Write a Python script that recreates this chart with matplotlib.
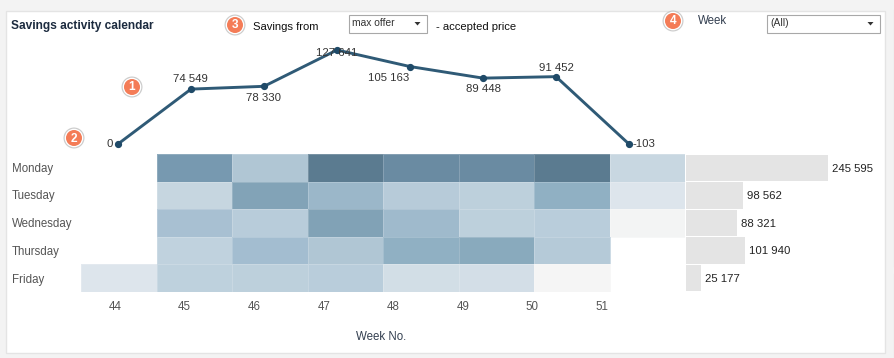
import numpy as np
import matplotlib
matplotlib.use('Agg')
import matplotlib.pyplot as plt
from matplotlib.colors import LinearSegmentedColormap, Normalize
from matplotlib.patches import Rectangle, Circle, Polygon

plt.rcParams['font.family'] = ['Liberation Sans', 'DejaVu Sans']

# dados
weeks = [44, 45, 46, 47, 48, 49, 50, 51]
days = ['Monday', 'Tuesday', 'Wednesday', 'Thursday', 'Friday']
week_savings = [0, 74549, 78330, 127641, 105163, 89448, 91452, -103]
day_savings = [245595, 98562, 88321, 101940, 25177]
monday = [np.nan, 35000, 14000, 55000, 45000, 45000, 55000, 5500]
tuesday = [np.nan, 6000, 30000, 21000, 11000, 9000, 26000, 0]
wednesday = [np.nan, 16500, 10500, 30500, 19500, 9000, 10000, -5500]
thursday = [np.nan, 8000, 18000, 14000, 26000, 28000, 12000, np.nan]
friday = [0, 8500, 9000, 10000, 3000, 2800, -6000, np.nan]

W, H = 894, 358
fig = plt.figure(figsize=(W / 100, H / 100), dpi=100, facecolor='#f3f3f3')


def px_axes(x0, y0, x1, y1):
    # eixo posicionado em pixels da imagem (y para baixo)
    ax = fig.add_axes([x0 / W, 1 - y1 / H, (x1 - x0) / W, (y1 - y0) / H])
    ax.patch.set_alpha(0)
    return ax


# fundo: painel branco e controles
bg = px_axes(0, 0, W, H)
bg.set_xlim(0, W)
bg.set_ylim(H, 0)
bg.axis('off')
bg.add_patch(Rectangle((5.5, 10.5), 879.5, 342, fc='white', ec='#e4e4e4', lw=1))
bg.plot([893.5, 893.5], [10, 266], color='#e6e6e6', lw=1)
bg.plot([893.5, 893.5], [274, 358], color='#e6e6e6', lw=1)

bg.text(11, 26, 'Savings activity calendar', fontsize=8.6, fontweight='bold', color='#1c2b3f', va='center')
bg.text(253, 26.5, 'Savings from', fontsize=8.1, color='#111111', va='center')
bg.text(436, 26.5, '- accepted price', fontsize=8.1, color='#111111', va='center')
bg.text(698, 20.5, 'Week', fontsize=8.3, color='#333f50', va='center')

for x0, x1, label in [(348.5, 426.5, 'max offer'), (766.5, 879.5, '(All)')]:
    bg.add_patch(Rectangle((x0, 14.5), x1 - x0, 18, fc='white', ec='#a8a8a8', lw=0.8))
    bg.text(x0 + 4, 23, label, fontsize=7.4, color='#333333', va='center')
    bg.add_patch(Polygon([(x1 - 12, 22), (x1 - 6, 22), (x1 - 9, 25.5)], fc='#333333', ec='none'))

for n, (cx, cy) in enumerate([(132, 87), (74, 138), (235, 25), (673, 21)], start=1):
    bg.add_patch(Circle((cx, cy), 10.5, fc='#c4c4c4', ec='none', alpha=0.85))
    bg.add_patch(Circle((cx, cy), 9.3, fc='white', ec='none'))
    bg.add_patch(Circle((cx, cy), 8, fc='#f47c57', ec='none'))
    bg.text(cx, cy + 0.5, str(n), fontsize=8.6, fontweight='bold', color='white', ha='center', va='center')

# linha de economia por semana
ax_line = px_axes(118, 50, 629, 144)
ax_line.plot(weeks, week_savings, color='#2f5a76', lw=2.1, marker='o', ms=4.2,
             mfc='#1f4a68', mec='#1f4a68', clip_on=False, solid_capstyle='round')
ax_line.set_xlim(44, 51)
ax_line.set_ylim(0, 127641)
ax_line.axis('off')

offsets = [(-8, 0, 'center'), (-1, 10, 'center'), (-1, -12, 'center'), (0, -3, 'center'),
           (-21, -11, 'center'), (0, -11, 'center'), (0, 9, 'center'), (15, 0, 'center')]
for wk, val, (dx, dy, ha) in zip(weeks, week_savings, offsets):
    txt = f'{val:,}'.replace(',', ' ')
    ax_line.annotate(txt, (wk, val), xytext=(dx * 0.72, dy * 0.72), textcoords='offset points',
                     ha=ha, va='center', fontsize=8.2, color='#333333', annotation_clip=False)

# calendario (heatmap)
ax_heat = px_axes(81, 154, 685, 292)
grid = np.array([monday, tuesday, wednesday, thursday, friday])
nodes = [(-6000, '#f5f5f5'), (0, '#dde5ec'), (6000, '#c6d6e0'), (10000, '#b9cddb'),
         (14000, '#b0c6d4'), (18000, '#a3bdd0'), (21000, '#9bb7c9'), (26000, '#90b0c3'),
         (30000, '#82a3b7'), (35000, '#7799b0'), (45000, '#6a8ba2'), (55000, '#5b7b90')]
norm = Normalize(-6000, 55000)
cmap = LinearSegmentedColormap.from_list('savings', [(norm(v), c) for v, c in nodes])
ax_heat.pcolormesh(np.arange(9), np.arange(6), grid, cmap=cmap, norm=norm,
                   edgecolors='#ffffff30', linewidth=0.4)
ax_heat.set_xlim(0, 8)
ax_heat.set_ylim(5, 0)
ax_heat.axis('off')

for i, day in enumerate(days):
    bg.text(12, 168.7 + i * 27.7, day, fontsize=8.3, color='#555555', va='center')

# barras por dia
ax_bar = px_axes(686, 154, 828, 292)
ax_bar.barh(np.arange(5) + 0.5, day_savings, height=0.96, color='#e4e4e4')
ax_bar.set_xlim(0, max(day_savings))
ax_bar.set_ylim(5, 0)
ax_bar.axis('off')
for i, val in enumerate(day_savings):
    ax_bar.annotate(f'{val:,}'.replace(',', ' '), (val, i + 0.5), xytext=(3, -0.6),
                    textcoords='offset points', va='center', fontsize=8.2, color='#222222',
                    annotation_clip=False)

# eixo das semanas
ax_wk = px_axes(115, 292, 602, 300)
ax_wk.set_xlim(44, 51)
ax_wk.set_xticks(weeks)
ax_wk.set_yticks([])
ax_wk.tick_params(axis='x', length=0, pad=0.6, labelsize=8.3, labelcolor='#555555')
for s in ax_wk.spines.values():
    s.set_visible(False)
bg.text(381, 337.5, 'Week No.', fontsize=8.3, color='#333f50', ha='center', va='center')

fig.savefig('out.png', dpi=100, facecolor=fig.get_facecolor())
